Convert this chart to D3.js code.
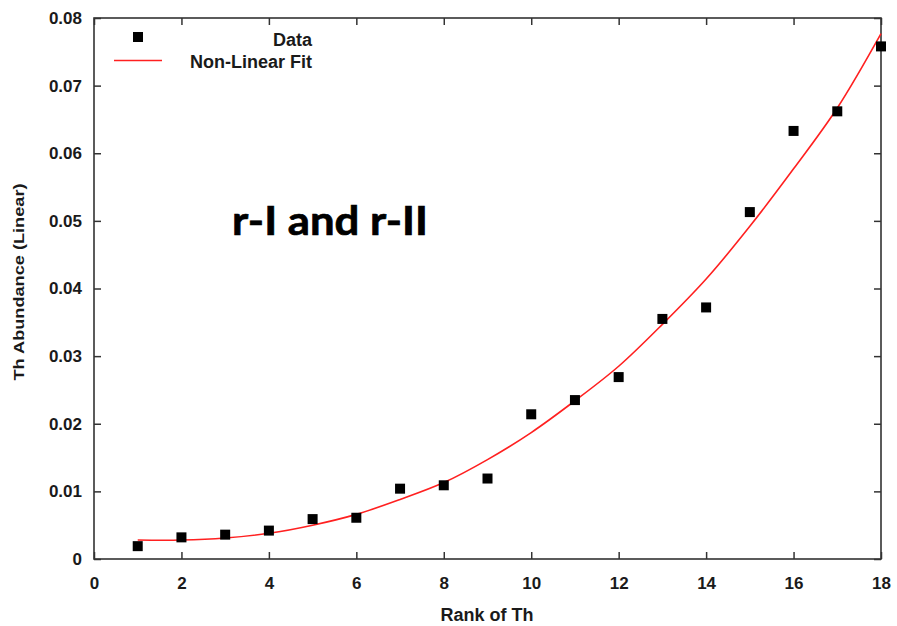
<!DOCTYPE html>
<html>
<head>
<meta charset="utf-8">
<script src="https://cdn.jsdelivr.net/npm/d3@7"></script>
<style>
  html, body { margin: 0; padding: 0; background: #fff; }
  svg { display: block; }
  .tick text { font-family: "Liberation Sans", Arial, sans-serif; font-weight: bold; font-size: 17px; fill: #1a1a1a; }
</style>
</head>
<body>
<script>
// Th abundance versus rank, with the non-linear fit curve
const ranks = [1, 2, 3, 4, 5, 6, 7, 8, 9, 10, 11, 12, 13, 14, 15, 16, 17, 18];
const abundance = [0.0019, 0.0032, 0.0036, 0.0042, 0.0059, 0.0061, 0.0104, 0.0109, 0.0119,
                   0.0214, 0.0235, 0.0269, 0.0355, 0.0372, 0.0513, 0.0633, 0.0662, 0.0758];
const fitValues = [0.0028, 0.0028, 0.0031, 0.0038, 0.0050, 0.0066, 0.0088, 0.0113, 0.0147,
                   0.0187, 0.0234, 0.0285, 0.0347, 0.0414, 0.0492, 0.0577, 0.0667, 0.0777];
const xTicks = [0, 2, 4, 6, 8, 10, 12, 14, 16, 18];
const yTicks = [0, 0.01, 0.02, 0.03, 0.04, 0.05, 0.06, 0.07, 0.08];

const W = 897, H = 626;
const margin = { left: 94, top: 18, right: W - 881, bottom: H - 559 };
const iw = W - margin.left - margin.right;
const ih = H - margin.top - margin.bottom;

const svg = d3.select("body").append("svg").attr("width", W).attr("height", H);
const g = svg.append("g").attr("transform", `translate(${margin.left},${margin.top})`);

const x = d3.scaleLinear().domain([0, 18]).range([0, iw]);
const y = d3.scaleLinear().domain([0, 0.08]).range([ih, 0]);

const axisColor = "#333";
const fmtY = d => d === 0 ? "0" : d3.format(".2f")(d);

// Bottom and left axes with labels; ticks point into the plot
const axisB = g.append("g").attr("transform", `translate(0,${ih})`)
  .call(d3.axisBottom(x).tickValues(xTicks).tickSizeInner(-7).tickSizeOuter(0).tickPadding(18).tickFormat(d3.format("d")));
const axisL = g.append("g")
  .call(d3.axisLeft(y).tickValues(yTicks).tickSizeInner(-7).tickSizeOuter(0).tickPadding(12).tickFormat(fmtY));
// Mirrored ticks on top and right, no labels
const axisT = g.append("g")
  .call(d3.axisTop(x).tickValues(xTicks).tickSizeInner(-7).tickSizeOuter(0).tickFormat(""));
const axisR = g.append("g").attr("transform", `translate(${iw},0)`)
  .call(d3.axisRight(y).tickValues(yTicks).tickSizeInner(-7).tickSizeOuter(0).tickFormat(""));

[axisB, axisL, axisT, axisR].forEach(a => {
  a.select(".domain").remove();
  a.selectAll(".tick line").attr("stroke", axisColor).attr("stroke-width", 1.5);
});

// Plot frame
g.append("rect").attr("x", 0).attr("y", 0).attr("width", iw).attr("height", ih)
  .attr("fill", "none").attr("stroke", axisColor).attr("stroke-width", 1.6);

// Fit curve
const line = d3.line().x((d, i) => x(ranks[i])).y(d => y(d)).curve(d3.curveCatmullRom);
g.append("path").datum(fitValues).attr("d", line)
  .attr("fill", "none").attr("stroke", "#ff2020").attr("stroke-width", 1.6);

// Data markers
const sq = 10;
g.selectAll("rect.pt").data(abundance).join("rect").attr("class", "pt")
  .attr("x", (d, i) => x(ranks[i]) - sq / 2).attr("y", d => y(d) - sq / 2)
  .attr("width", sq).attr("height", sq).attr("fill", "#000");

// Legend
const leg = svg.append("g");
leg.append("rect").attr("x", 133).attr("y", 32).attr("width", sq).attr("height", sq).attr("fill", "#000");
leg.append("line").attr("x1", 114).attr("x2", 162).attr("y1", 60.5).attr("y2", 60.5)
  .attr("stroke", "#ff2020").attr("stroke-width", 1.6);
leg.selectAll("text").data(["Data", "Non-Linear Fit"]).join("text")
  .attr("x", 312).attr("y", (d, i) => 45.5 + i * 22.5)
  .attr("text-anchor", "end")
  .attr("font-family", "Liberation Sans, Arial, sans-serif").attr("font-weight", "bold")
  .attr("font-size", 18).attr("fill", "#1a1a1a").text(d => d);

// Axis titles
svg.append("text").attr("x", 487).attr("y", 621).attr("text-anchor", "middle")
  .attr("font-family", "Liberation Sans, Arial, sans-serif").attr("font-weight", "bold")
  .attr("font-size", 18).attr("fill", "#1a1a1a").text("Rank of Th");
svg.append("text").attr("transform", "translate(24,282) rotate(-90)").attr("text-anchor", "middle")
  .attr("font-family", "Liberation Sans, Arial, sans-serif").attr("font-weight", "bold")
  .attr("font-size", 15).attr("textLength", 197).attr("lengthAdjust", "spacingAndGlyphs")
  .attr("fill", "#1a1a1a").text("Th Abundance (Linear)");

// Annotation
svg.append("text").attr("x", 232).attr("y", 235)
  .attr("font-family", "Lato, 'Open Sans', sans-serif").attr("font-weight", "bold")
  .attr("font-size", 40).attr("textLength", 196).attr("lengthAdjust", "spacingAndGlyphs")
  .attr("fill", "#000").attr("stroke", "#000").attr("stroke-width", 0.7).text("r-I and r-II");
</script>
</body>
</html>
